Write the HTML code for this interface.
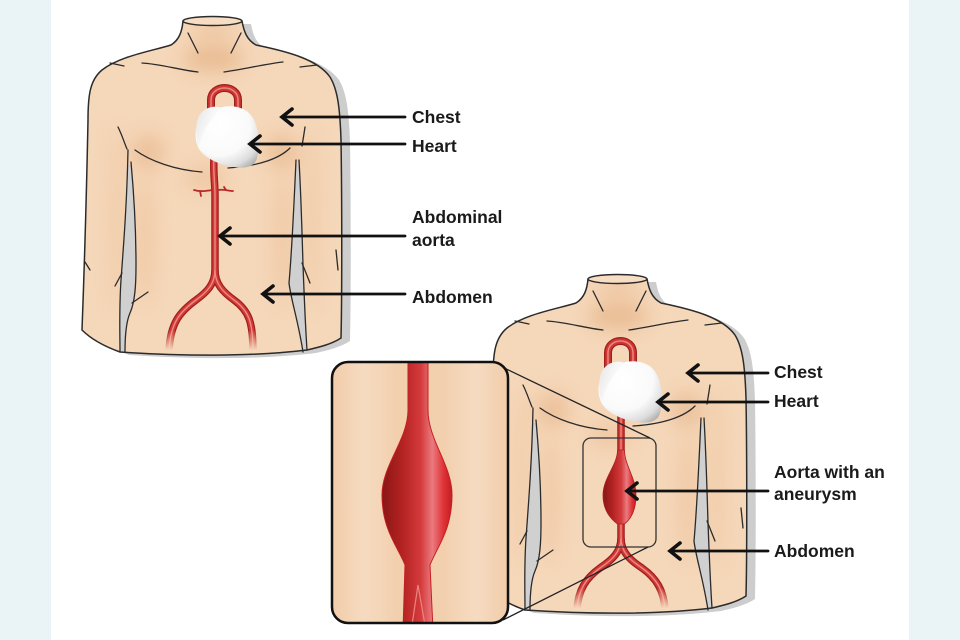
<!DOCTYPE html>
<html><head><meta charset="utf-8">
<style>
html,body{margin:0;padding:0;background:#fff;}
svg{display:block;}
text{font-family:"Liberation Sans",Arial,sans-serif;font-weight:bold;font-size:17.5px;fill:#1a1a1a;}
</style></head>
<body>
<svg width="960" height="640" viewBox="0 0 960 640" xmlns="http://www.w3.org/2000/svg">
<defs>
  <radialGradient id="heartG" cx="0.38" cy="0.32" r="0.8">
    <stop offset="0" stop-color="#ffffff"/>
    <stop offset="0.6" stop-color="#fafafa"/>
    <stop offset="0.86" stop-color="#dcdcdc"/>
    <stop offset="1" stop-color="#b4b4b4"/>
  </radialGradient>
  <linearGradient id="lobeG" x1="0" y1="0" x2="1" y2="0.6">
    <stop offset="0" stop-color="#e4e4e4"/>
    <stop offset="0.5" stop-color="#f6f6f6"/>
    <stop offset="1" stop-color="#ffffff"/>
  </linearGradient>
  <linearGradient id="aneuG" x1="0" y1="0" x2="1" y2="0">
    <stop offset="0" stop-color="#8a1616"/>
    <stop offset="0.3" stop-color="#b52323"/>
    <stop offset="0.55" stop-color="#d43a3c"/>
    <stop offset="0.72" stop-color="#ea7a7e"/>
    <stop offset="0.88" stop-color="#df3236"/>
    <stop offset="1" stop-color="#c21e22"/>
  </linearGradient>
  <linearGradient id="insetBg" x1="0" y1="0" x2="1" y2="0">
    <stop offset="0" stop-color="#f1cca9"/>
    <stop offset="0.18" stop-color="#f6dbc1"/>
    <stop offset="0.38" stop-color="#f2cfad"/>
    <stop offset="0.62" stop-color="#f2cfad"/>
    <stop offset="0.82" stop-color="#f6dbc1"/>
    <stop offset="1" stop-color="#f1cca9"/>
  </linearGradient>
  <linearGradient id="fadeG1" gradientUnits="userSpaceOnUse" x1="0" y1="330" x2="0" y2="350">
    <stop offset="0" stop-color="#fff"/><stop offset="1" stop-color="#000"/>
  </linearGradient>
  <linearGradient id="fadeG2" gradientUnits="userSpaceOnUse" x1="0" y1="588" x2="0" y2="608">
    <stop offset="0" stop-color="#fff"/><stop offset="1" stop-color="#000"/>
  </linearGradient>
  <mask id="fade1" maskUnits="userSpaceOnUse" x="0" y="0" width="960" height="640">
    <rect x="0" y="0" width="960" height="640" fill="url(#fadeG1)"/>
  </mask>
  <mask id="fade2" maskUnits="userSpaceOnUse" x="0" y="0" width="960" height="640">
    <rect x="0" y="0" width="960" height="640" fill="url(#fadeG2)"/>
  </mask>
  <clipPath id="silClip">
    <path d="M183,21 C182,32 179,40 171,45 C152,51 120,56 102,70 C90,80 88,95 88,120 C87,170 85,250 82,330 C92,340 106,347 120,352 C180,356 250,357 307,350 C320,347 332,344 341,338 C342,300 342,200 341,140 C340,110 338,90 330,77 C318,60 290,52 256,45 C247,40 244,32 242,21 Z"/>
  </clipPath>
  <clipPath id="insetClip">
    <rect x="332" y="362" width="176" height="261" rx="16"/>
  </clipPath>
  <filter id="blur8" x="-50%" y="-50%" width="200%" height="200%"><feGaussianBlur stdDeviation="9"/></filter>

  <g id="body">
    <path transform="translate(9,3)" fill="#cdcdcd" d="M183,21 C182,32 179,40 171,45 C152,51 120,56 102,70 C90,80 88,95 88,120 C87,170 85,250 82,330 C92,340 106,347 120,352 C180,356 250,357 307,350 C320,347 332,344 341,338 C342,300 342,200 341,140 C340,110 338,90 330,77 C318,60 290,52 256,45 C247,40 244,32 242,21 Z"/>
    <path fill="#f5d7b9" d="M183,21 C182,32 179,40 171,45 C152,51 120,56 102,70 C90,80 88,95 88,120 C87,170 85,250 82,330 C92,340 106,347 120,352 C180,356 250,357 307,350 C320,347 332,344 341,338 C342,300 342,200 341,140 C340,110 338,90 330,77 C318,60 290,52 256,45 C247,40 244,32 242,21 Z"/>
    <g clip-path="url(#silClip)">
      <g filter="url(#blur8)" opacity="0.42">
        <ellipse cx="213" cy="58" rx="30" ry="13" fill="#d9975f"/>
        <ellipse cx="213" cy="30" rx="22" ry="9" fill="#e6b184"/>
        <ellipse cx="148" cy="152" rx="16" ry="18" fill="#e0a372"/>
        <ellipse cx="282" cy="152" rx="16" ry="18" fill="#e0a372"/>
        <ellipse cx="145" cy="240" rx="8" ry="65" fill="#e8b487"/>
        <ellipse cx="283" cy="240" rx="8" ry="65" fill="#e8b487"/>
        <ellipse cx="117" cy="220" rx="5" ry="90" fill="#e8b487"/>
        <ellipse cx="312" cy="220" rx="5" ry="90" fill="#e8b487"/>
        <ellipse cx="205" cy="178" rx="22" ry="12" fill="#e8b487"/>
      </g>
    </g>
    <path fill="#d0d0d0" d="M128,165 C127,205 124,240 121,280 C119,310 120,335 120,352 L125,352 C125,335 126,322 130,313 C135,302 136,285 136,265 C136,228 134,195 131,165 Z"/>
    <path fill="#d0d0d0" d="M296,165 C294,205 292,250 289,283 C291,300 298,320 303,352 L307,350 C305,320 304,290 303,265 C302,230 301,195 299,165 Z"/>
    <g fill="none" stroke="#2b2b2b" stroke-width="1.3" stroke-linecap="round">
      <path d="M128,150 C127,200 124,240 121,280 C119,310 120,335 120,352"/>
      <path d="M131,162 C134,195 136,228 136,265 C136,285 135,302 130,313 C126,322 125,335 125,352"/>
      <path d="M296,160 C294,205 292,250 289,283 C291,300 298,320 303,352"/>
      <path d="M299,160 C301,195 302,230 303,265 C304,290 305,320 307,350"/>
      <path stroke-width="1.5" d="M183,21 C182,32 179,40 171,45 C152,51 120,56 102,70 C90,80 88,95 88,120 C87,170 85,250 82,330 C92,340 106,347 120,352 C180,356 250,357 307,350 C320,347 332,344 341,338 C342,300 342,200 341,140 C340,110 338,90 330,77 C318,60 290,52 256,45 C247,40 244,32 242,21"/>
      <path d="M188,33 L198,53"/>
      <path d="M241,33 L231,53"/>
      <path d="M142,63 C160,64 180,70 198,72"/>
      <path d="M224,72 C245,69 265,64 283,62"/>
      <path d="M300,67 L317,65"/>
      <path d="M110,63 L124,66"/>
      <path d="M118,127 C122,135 124,142 127,149"/>
      <path d="M135,150 C150,161 175,170 202,172"/>
      <path d="M290,148 C280,158 260,166 228,168"/>
      <path d="M305,127 C304,134 303,140 302,146"/>
      <path d="M85,262 L90,270"/>
      <path d="M115,286 L122,273"/>
      <path d="M132,303 L148,292"/>
      <path d="M302,263 L310,283"/>
      <path d="M336,250 L338,270"/>
    </g>
    <ellipse cx="212.5" cy="21" rx="29.5" ry="4.5" fill="#f7ddc4" stroke="#2b2b2b" stroke-width="1.4"/>
  </g>

  <g id="heart">
    <path fill="url(#heartG)" d="M213,111 C225,103 246,105 253,118 C259,128 260,145 257,158 C255,167 244,169 234,167 C220,165 203,158 198,147 C194,138 195,126 200,119 C203,114 208,112 213,111 Z"/>
    <path fill="url(#lobeG)" d="M222,108 C212,104 202,109 198,118 C195,127 196,140 199,147 C201,139 204,130 209,123 C213,117 217,112 222,108 Z"/>
  </g>
</defs>

<rect x="0" y="0" width="51" height="640" fill="#eaf3f6"/>
<rect x="909" y="0" width="51" height="640" fill="#eaf3f6"/>

<!-- Torso 1 -->
<use href="#body"/>
<g fill="none">
  <path d="M211,122 L211,100 C211,84 238,84 238,100 L238,118" stroke="#9d1f1e" stroke-width="8"/>
  <path d="M211,122 L211,100 C211,84 238,84 238,100 L238,118" stroke="#cf3733" stroke-width="5.5"/>
  <path d="M211,122 L211,100 C211,84 238,84 238,100 L238,118" stroke="#e98580" stroke-width="1.5"/>
</g>
<g fill="none" mask="url(#fade1)">
  <g stroke="#9d1f1e" stroke-width="7.5">
    <path d="M214,158 C213,172 215,182 215,196 L215,270 C215,284 207,292 196,300 C181,311 170,322 169,352"/>
    <path d="M215,270 C215,284 223,292 234,300 C249,311 253,322 253,352"/>
  </g>
  <g stroke="#d13a36" stroke-width="5">
    <path d="M214,158 C213,172 215,182 215,196 L215,270 C215,284 207,292 196,300 C181,311 170,322 169,352"/>
    <path d="M215,270 C215,284 223,292 234,300 C249,311 253,322 253,352"/>
  </g>
  <g stroke="#ec8a84" stroke-width="1.4">
    <path d="M214,158 C213,172 215,182 215,196 L215,270 C215,284 207,292 196,300 C181,311 170,322 169,352"/>
    <path d="M215,270 C215,284 223,292 234,300 C249,311 253,322 253,352"/>
  </g>
</g>
<g fill="none" stroke="#b62a27" stroke-width="1.8" stroke-linecap="round">
  <path d="M194,190 C200,192 206,191 212,190"/>
  <path d="M218,190 C224,189 228,191 233,191"/>
  <path d="M200,191 L201,196"/>
  <path d="M226,190 L224,187"/>
</g>
<use href="#heart"/>

<g fill="none" stroke="#111" stroke-width="2.8" stroke-linecap="round" stroke-linejoin="miter">
  <path d="M283,117 L405,117"/><path d="M292,109 L282,117 L292,125" stroke-width="3.6"/>
  <path d="M251,144 L405,144"/><path d="M260,136 L250,144 L260,152" stroke-width="3.6"/>
  <path d="M221,236 L405,236"/><path d="M230,228 L220,236 L230,244" stroke-width="3.6"/>
  <path d="M264,294 L405,294"/><path d="M273,286 L263,294 L273,302" stroke-width="3.6"/>
</g>
<text x="412" y="123">Chest</text>
<text x="412" y="152">Heart</text>
<text x="412" y="223">Abdominal</text>
<text x="412" y="246">aorta</text>
<text x="412" y="303">Abdomen</text>

<!-- Torso 2 -->
<use href="#body" transform="translate(405,258)"/>
<g fill="none">
  <path d="M608,374 L608,353 C608,337 633,337 633,353 L633,374" stroke="#9d1f1e" stroke-width="8"/>
  <path d="M608,374 L608,353 C608,337 633,337 633,353 L633,374" stroke="#cf3733" stroke-width="5.5"/>
  <path d="M608,374 L608,353 C608,337 633,337 633,353 L633,374" stroke="#e98580" stroke-width="1.5"/>
</g>
<g fill="none">
  <path d="M621,412 L621,456" stroke="#9d1f1e" stroke-width="7.5"/>
  <path d="M621,412 L621,456" stroke="#d13a36" stroke-width="5"/>
  <path d="M621,412 L621,456" stroke="#ec8a84" stroke-width="1.4"/>
</g>
<g fill="none" mask="url(#fade2)">
  <g stroke="#9d1f1e" stroke-width="7.5">
    <path d="M621,518 L621,538 C621,552 612,560 600,568 C586,578 578,590 577,610"/>
    <path d="M621,538 C621,552 630,560 642,568 C656,578 664,590 665,610"/>
  </g>
  <g stroke="#d13a36" stroke-width="5">
    <path d="M621,518 L621,538 C621,552 612,560 600,568 C586,578 578,590 577,610"/>
    <path d="M621,538 C621,552 630,560 642,568 C656,578 664,590 665,610"/>
  </g>
  <g stroke="#ec8a84" stroke-width="1.4">
    <path d="M621,518 L621,538 C621,552 612,560 600,568 C586,578 578,590 577,610"/>
    <path d="M621,538 C621,552 630,560 642,568 C656,578 664,590 665,610"/>
  </g>
</g>
<path fill="url(#aneuG)" stroke="#b21f1f" stroke-width="0.8" d="M617.5,450 C617.5,465 603,478 603,495 C603,511 611,519 617.5,524 L624.5,524 C631,519 636,511 636,495 C636,478 624.5,465 624.5,450 Z"/>
<use href="#heart" transform="translate(403,255)"/>

<rect x="583" y="438" width="73" height="109" rx="8" fill="none" stroke="#333" stroke-width="1.3"/>
<path d="M500,366 L650,438" stroke="#222" stroke-width="1.3" fill="none"/>
<path d="M503,620 L648,547" stroke="#222" stroke-width="1.3" fill="none"/>

<rect x="332" y="362" width="176" height="261" rx="16" fill="url(#insetBg)"/>
<g clip-path="url(#insetClip)">
  <path fill="url(#aneuG)" stroke="#c41f22" stroke-width="1" d="M408,355 L408,410 C408,440 382,465 382,495 C382,530 398,547 405,565 L403,630 L433,630 L430,565 C437,547 452,530 452,495 C452,465 428,440 428,410 L428,355 Z"/>
  <path d="M418,585 L412,625 M418,585 L425,625" stroke="#e98580" stroke-width="1.2" fill="none"/>
</g>
<rect x="332" y="362" width="176" height="261" rx="16" fill="none" stroke="#111" stroke-width="2.5"/>

<g fill="none" stroke="#111" stroke-width="2.8" stroke-linecap="round" stroke-linejoin="miter">
  <path d="M689,373 L768,373"/><path d="M698,365 L688,373 L698,381" stroke-width="3.6"/>
  <path d="M659,402 L768,402"/><path d="M668,394 L658,402 L668,410" stroke-width="3.6"/>
  <path d="M628,491 L768,491"/><path d="M637,483 L627,491 L637,499" stroke-width="3.6"/>
  <path d="M671,551 L768,551"/><path d="M680,543 L670,551 L680,559" stroke-width="3.6"/>
</g>
<text x="774" y="378">Chest</text>
<text x="774" y="407">Heart</text>
<text x="774" y="478">Aorta with an</text>
<text x="774" y="500">aneurysm</text>
<text x="774" y="557">Abdomen</text>
</svg>
</body></html>
